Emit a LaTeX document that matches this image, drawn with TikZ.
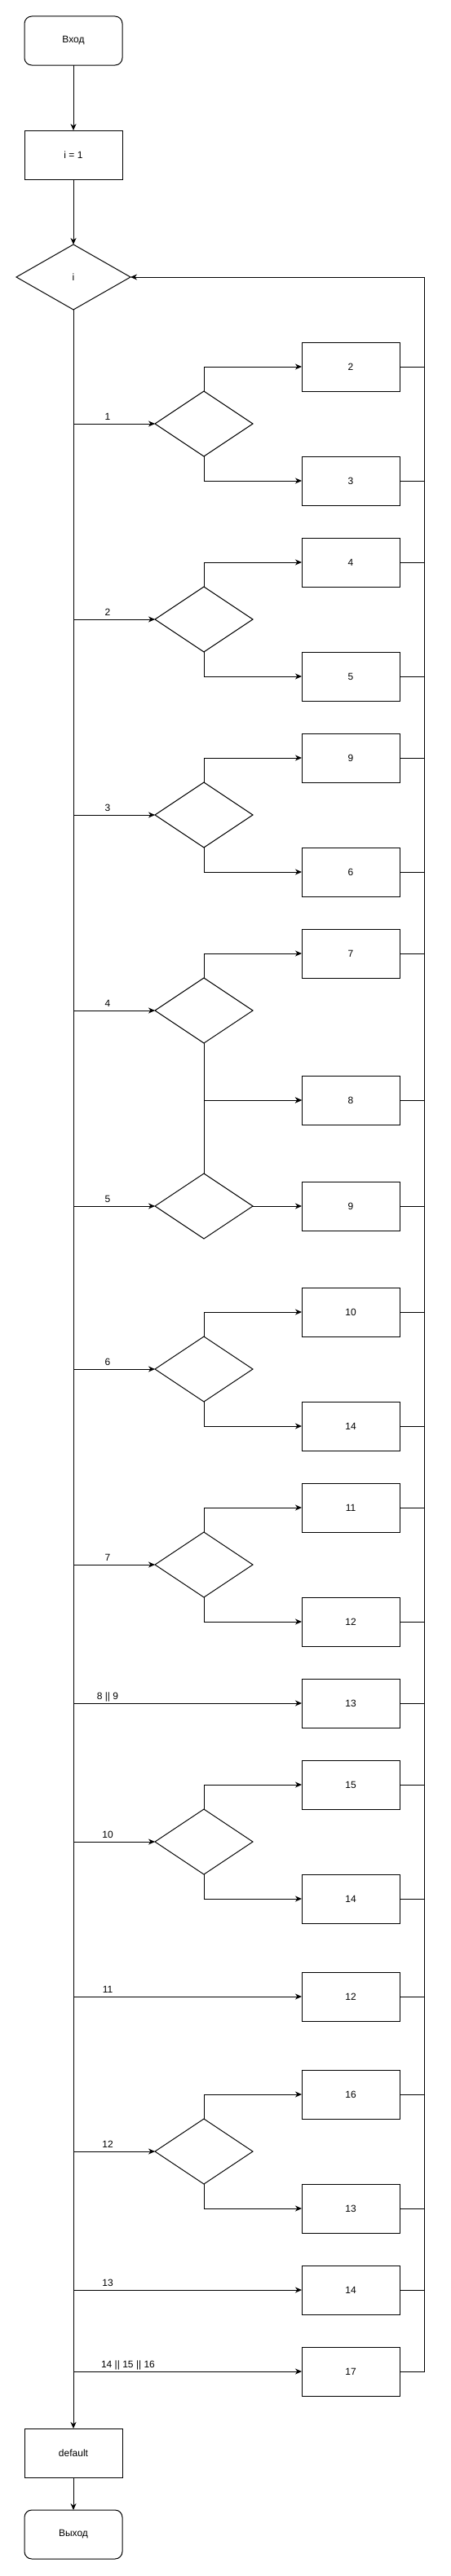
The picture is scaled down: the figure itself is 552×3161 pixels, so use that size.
\documentclass[tikz,border=0pt]{standalone}
\usepackage{fontspec}
\setmainfont{Liberation Sans}
\usetikzlibrary{shapes.geometric,arrows.meta}
\tikzset{
  base/.style={draw=black,line width=1pt,inner sep=0pt,outer sep=0pt,font=\fontsize{12}{14}\selectfont},
  termbox/.style={base,rectangle,rounded corners=9pt,minimum width=120pt,minimum height=60pt},
  procbox/.style={base,rectangle,minimum width=120pt,minimum height=60pt},
  casebox/.style={base,rectangle,minimum width=120pt,minimum height=60pt},
  decis/.style={base,diamond,minimum width=120pt,minimum height=80pt},
  line/.style={draw=black,line width=1pt},
  arr/.style={line,-{Stealth[length=8pt,width=7pt,inset=2.5pt]}},
  elabel/.style={inner sep=0pt,anchor=base,font=\fontsize{12}{14}\selectfont}
}
\begin{document}
\begin{tikzpicture}[x=1pt,y=-1pt]
\useasboundingbox (0,0) rectangle (552,3161);
% main column
\node[termbox] (start) at (90,50) {Вход};
\node[procbox] (init) at (90,190) {i = 1};
\node[decis,minimum width=140pt] (i) at (90,340) {i};
\node[procbox] (def) at (90,3010) {default};
\node[termbox] (exit) at (90,3110) {Выход};
% decisions
\node[decis] (d1) at (250,520) {};
\node[decis] (d2) at (250,760) {};
\node[decis] (d3) at (250,1000) {};
\node[decis] (d4) at (250,1240) {};
\node[decis] (d5) at (250,1480) {};
\node[decis] (d6) at (250,1680) {};
\node[decis] (d7) at (250,1920) {};
\node[decis] (d10) at (250,2260) {};
\node[decis] (d12) at (250,2640) {};
% case boxes
\node[casebox] (b2) at (430,450) {2};
\node[casebox] (b3) at (430,590) {3};
\node[casebox] (b4) at (430,690) {4};
\node[casebox] (b5) at (430,830) {5};
\node[casebox] (b9a) at (430,930) {9};
\node[casebox] (b6) at (430,1070) {6};
\node[casebox] (b7) at (430,1170) {7};
\node[casebox] (b8) at (430,1350) {8};
\node[casebox] (b9b) at (430,1480) {9};
\node[casebox] (b10) at (430,1610) {10};
\node[casebox] (b14a) at (430,1750) {14};
\node[casebox] (b11) at (430,1850) {11};
\node[casebox] (b12a) at (430,1990) {12};
\node[casebox] (b13a) at (430,2090) {13};
\node[casebox] (b15) at (430,2190) {15};
\node[casebox] (b14b) at (430,2330) {14};
\node[casebox] (b12b) at (430,2450) {12};
\node[casebox] (b16) at (430,2570) {16};
\node[casebox] (b13b) at (430,2710) {13};
\node[casebox] (b14c) at (430,2810) {14};
\node[casebox] (b17) at (430,2910) {17};
% top flow
\draw[arr] (start) -- (init);
\draw[arr] (init) -- (i);
\draw[arr] (i.south) -- (def.north);
\draw[arr] (def) -- (exit);
% branches from the switch
\draw[arr] (i.south) |- (d1.west);
\draw[arr] (i.south) |- (d2.west);
\draw[arr] (i.south) |- (d3.west);
\draw[arr] (i.south) |- (d4.west);
\draw[arr] (i.south) |- (d5.west);
\draw[arr] (i.south) |- (d6.west);
\draw[arr] (i.south) |- (d7.west);
\draw[arr] (i.south) |- (b13a.west);
\draw[arr] (i.south) |- (d10.west);
\draw[arr] (i.south) |- (b12b.west);
\draw[arr] (i.south) |- (d12.west);
\draw[arr] (i.south) |- (b14c.west);
\draw[arr] (i.south) |- (b17.west);
% branch labels
\node[elabel] (l1) at (132,515) {1};
\node[elabel] (l2) at (132,755) {2};
\node[elabel] (l3) at (132,995) {3};
\node[elabel] (l4) at (132,1235) {4};
\node[elabel] (l5) at (132,1475) {5};
\node[elabel] (l6) at (132,1675) {6};
\node[elabel] (l7) at (132,1915) {7};
\node[elabel] (l89) at (132,2085) {8 || 9};
\node[elabel] (l10) at (132,2255) {10};
\node[elabel] (l11) at (132,2445) {11};
\node[elabel] (l12) at (132,2635) {12};
\node[elabel] (l13) at (132,2805) {13};
\node[elabel] (l141516) at (157,2905) {14 || 15 || 16};
% decision outputs
\draw[arr] (d1.north) |- (b2.west);
\draw[arr] (d1.south) |- (b3.west);
\draw[arr] (d2.north) |- (b4.west);
\draw[arr] (d2.south) |- (b5.west);
\draw[arr] (d3.north) |- (b9a.west);
\draw[arr] (d3.south) |- (b6.west);
\draw[arr] (d4.north) |- (b7.west);
\draw[arr] (d4.south) |- (b8.west);
\draw[arr] (d5.north) |- (b8.west);
\draw[arr] (d5.east) -- (b9b.west);
\draw[arr] (d6.north) |- (b10.west);
\draw[arr] (d6.south) |- (b14a.west);
\draw[arr] (d7.north) |- (b11.west);
\draw[arr] (d7.south) |- (b12a.west);
\draw[arr] (d10.north) |- (b15.west);
\draw[arr] (d10.south) |- (b14b.west);
\draw[arr] (d12.north) |- (b16.west);
\draw[arr] (d12.south) |- (b13b.west);
% return loop
\coordinate (ret) at (520,340);
\draw[arr] (b17.east) -| (ret) -- (i.east);
\foreach \b in {b2,b3,b4,b5,b9a,b6,b7,b8,b9b,b10,b14a,b11,b12a,b13a,b15,b14b,b12b,b16,b13b,b14c}
  \draw[line] (\b.east) -- (\b.east -| ret);
\end{tikzpicture}
\end{document}
